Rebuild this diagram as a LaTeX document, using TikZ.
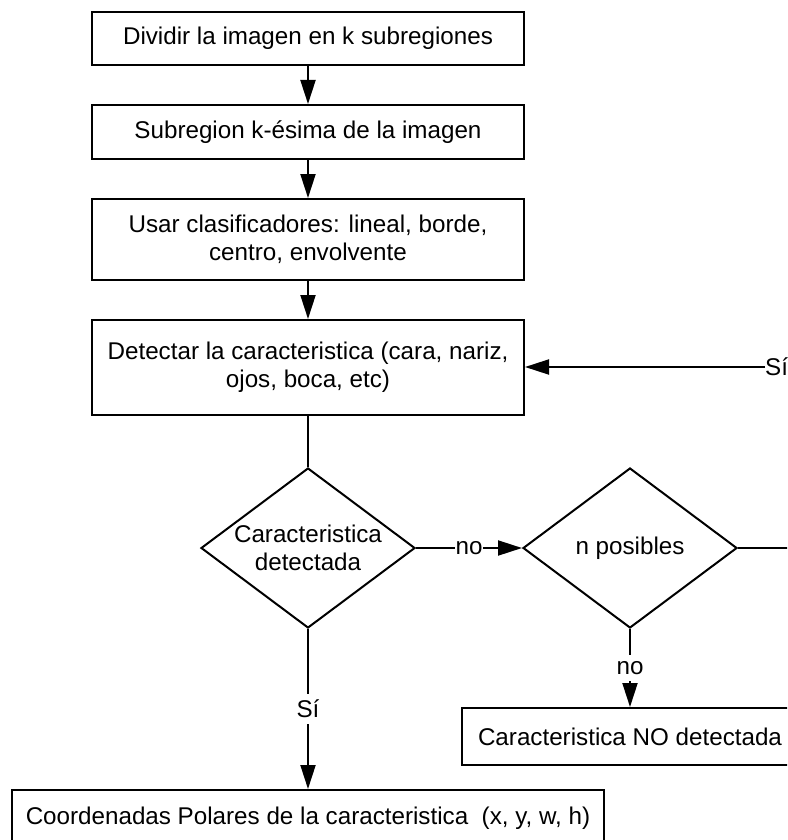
\documentclass[tikz,border=0pt]{standalone}
\usepackage{fontspec}
\setmainfont{Liberation Sans}
\usetikzlibrary{shapes.geometric,arrows.meta}
\begin{document}
\begin{tikzpicture}[x=1pt,y=-1pt,
  every node/.style={font=\fontsize{24.2}{28}\selectfont},
  stepbox/.style={draw,line width=2pt,rectangle,inner sep=0pt,align=center},
  decision/.style={draw,line width=2pt,diamond,inner sep=0pt,
    minimum width=214pt,minimum height=160pt},
  flow/.style={line width=2pt},
  arrow/.style={flow,-{Triangle[length=24pt,width=15pt]}},
  tag/.style={fill=white,inner xsep=1pt,inner ysep=6pt}]
\useasboundingbox (0,0) rectangle (787,840);
\clip (0,0) rectangle (787,840);

% main column
\node[stepbox,minimum width=432pt,minimum height=53pt] (b1) at (308,38.5)
  {Dividir la imagen en k subregiones};
\node[stepbox,minimum width=432pt,minimum height=54pt] (b2) at (308,132)
  {Subregion k-ésima de la imagen};
\node[stepbox,minimum width=432pt,minimum height=81pt] (b3) at (308,239.5)
  {Usar clasificadores: lineal, borde,\\centro, envolvente};
\node[stepbox,minimum width=432pt,minimum height=95pt] (b4) at (308,367.5)
  {Detectar la caracteristica (cara, nariz,\\ojos, boca, etc)};

% decisions
\node[decision,label={[align=center]center:Caracteristica\\detectada}] (d1) at (308,548) {};
\node[decision,label={center:n posibles}] (d2) at (630,548) {};

% results
\node[stepbox,minimum width=336pt,minimum height=57pt] (b6) at (630,736.5)
  {Caracteristica NO detectada};
\node[stepbox,minimum width=592pt,minimum height=56pt] (b5) at (308,818)
  {Coordenadas Polares de la caracteristica\ \ (x, y, w, h)};

% loop back
\coordinate (redge) at (795,548);
\node[anchor=west,inner sep=0pt] (si) at (765,367) {Sí};

% connectors
\draw[arrow] (b1) -- (b2);
\draw[arrow] (b2) -- (b3);
\draw[arrow] (b3) -- (b4);
\draw[flow] (b4) -- (d1);
\draw[arrow] (d1.east) -- node[tag] {no} (d2.west);
\draw[arrow] (d1.south) -- node[tag] {Sí} (b5.north);
\draw[arrow] (d2.south) -- node[tag] {no} (b6.north);
\draw[flow] (d2.east) -- (redge);
\draw[arrow] (si.west) -- (si.west -| b4.east);
\end{tikzpicture}
\end{document}
